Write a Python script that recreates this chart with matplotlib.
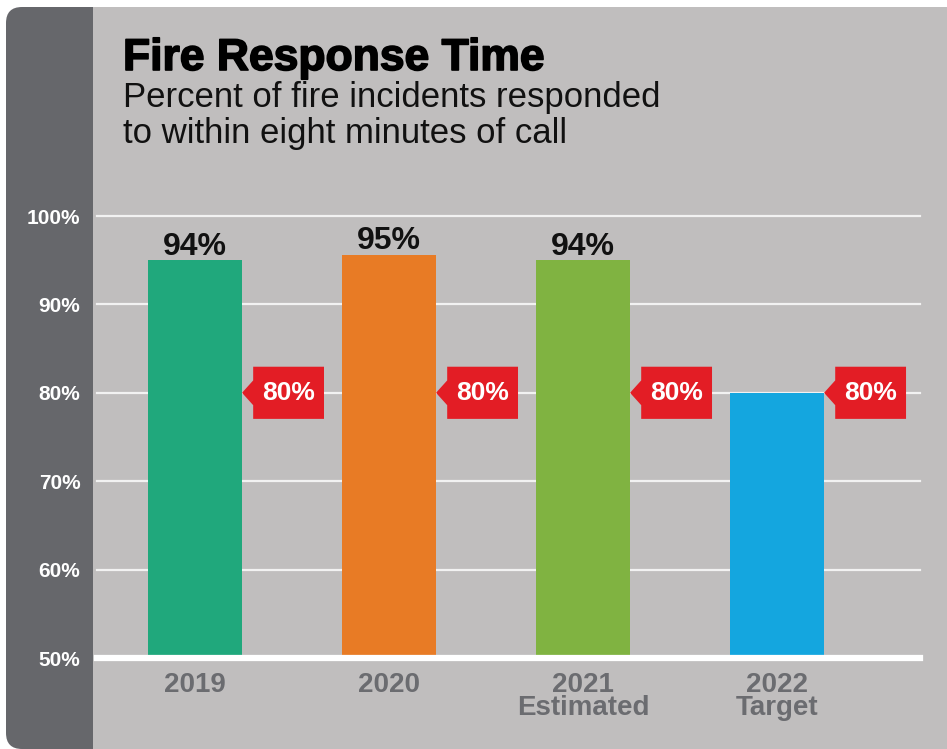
import matplotlib
matplotlib.use("Agg")
import matplotlib.pyplot as plt
import matplotlib.transforms as mtransforms
from matplotlib.patches import FancyBboxPatch, Rectangle, Polygon
import matplotlib.patheffects as pe

plt.rcParams["font.family"] = ["Liberation Sans", "DejaVu Sans"]

categories = ["2019", "2020", "2021\nEstimated", "2022\nTarget"]
values = [95.0, 95.6, 95.0, 80.0]
value_labels = ["94%", "95%", "94%", None]
targets = [80, 80, 80, 80]
target_labels = ["80%", "80%", "80%", "80%"]
colors = ["#20a87c", "#e87b25", "#80b341", "#14a6df"]
yticks = [50, 60, 70, 80, 90, 100]

W, H, DPI = 947, 749, 100
fig = plt.figure(figsize=(W / DPI, H / DPI), dpi=DPI)
fig.patch.set_facecolor("white")

# background panel (pixel coordinates)
ident = mtransforms.IdentityTransform()
dark = FancyBboxPatch((6, 0), 200, 742, boxstyle="round,pad=0,rounding_size=16",
                      transform=ident, facecolor="#66676b", edgecolor="none")
light = FancyBboxPatch((93, 0), 900, 742, boxstyle="round,pad=0,rounding_size=16",
                       transform=ident, facecolor="#c0bebe", edgecolor="none")
light_sq = Rectangle((93, 0), 40, 742, transform=ident, facecolor="#c0bebe", edgecolor="none")
for p in (dark, light, light_sq):
    p.set_zorder(-5)
    fig.patches.append(p)

# titles
fig.text(123 / W, 1 - 70 / H, "Fire Response Time", fontsize=32, fontweight="bold",
         color="black", va="baseline", ha="left",
         path_effects=[pe.withStroke(linewidth=1.2, foreground="black")])
fig.text(123 / W, 1 - 107 / H, "Percent of fire incidents responded", fontsize=25,
         color="#111111", va="baseline", ha="left")
fig.text(123 / W, 1 - 143 / H, "to within eight minutes of call", fontsize=25,
         color="#111111", va="baseline", ha="left")

ax = fig.add_axes([97 / W, 1 - 658 / H, (920 - 97) / W, (658 - 216) / H])
ax.set_facecolor("none")
for s in ax.spines.values():
    s.set_visible(False)

x = list(range(len(categories)))
ax.set_xlim(-0.505, 3.737)
ax.set_ylim(50, 100)

for yv in yticks[1:]:
    ax.axhline(yv, color="#f2f2f2", linewidth=1.6, zorder=1, clip_on=False)

bar_w = 0.485
ax.bar(x, [v - 50 for v in values], bottom=50, width=bar_w, color=colors, zorder=2)
ax.axhline(50, color="white", linewidth=4.5, zorder=3, clip_on=False)

for xi, v, lab in zip(x, values, value_labels):
    if lab:
        ax.annotate(lab, (xi, v), xytext=(0, 4), textcoords="offset points",
                    ha="center", va="baseline", fontsize=23, fontweight="bold",
                    color="#111111", zorder=4)

# target tags
for xi, t, lab in zip(x, targets, target_labels):
    tip = xi + bar_w / 2
    x0, x1 = xi + 0.30, xi + 0.665
    y0, y1 = t - 2.95, t + 2.95
    tag = Polygon([(tip, t), (x0, t + 1.4), (x0, y1), (x1, y1), (x1, y0), (x0, y0), (x0, t - 1.4)],
                  closed=True, facecolor="#e31d25", edgecolor="none", zorder=5)
    ax.add_patch(tag)
    ax.text((x0 + x1) / 2, t, lab, ha="center", va="center", fontsize=19,
            fontweight="bold", color="white", zorder=6)

ax.set_yticks(yticks)
ax.set_yticklabels([f"{v}%" for v in yticks])
ax.set_xticks(x)
ax.set_xticklabels(categories, linespacing=0.85)
ax.tick_params(axis="y", length=0, pad=12, labelsize=15, labelcolor="white")
ax.tick_params(axis="x", length=0, pad=10, labelsize=20, labelcolor="#6b6c70")
for t in ax.get_yticklabels() + ax.get_xticklabels():
    t.set_fontweight("bold")

fig.savefig("out.png", dpi=DPI, facecolor=fig.get_facecolor())
